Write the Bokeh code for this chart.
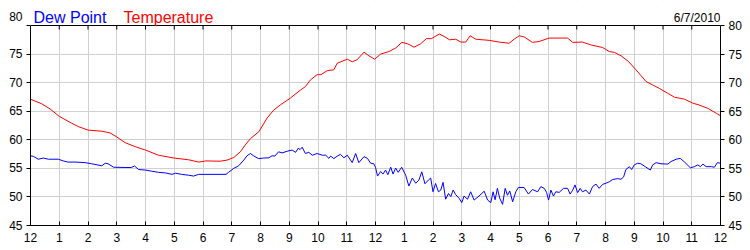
from bokeh.plotting import figure
from bokeh.models import Range1d, FixedTicker, LinearAxis, Label, Span, BoxAnnotation
from bokeh.embed import file_html
from bokeh.resources import INLINE

# ---- data (hours since midnight, degrees F) ----
temp_hours = [0.0, 0.39, 0.68, 1.0, 1.43, 1.67, 2.0, 2.48, 2.77, 3.0, 3.29, 3.64, 4.0, 4.45,
              5.0, 5.5, 5.85, 6.1, 6.6, 6.84, 7.07, 7.3, 7.47, 7.65, 7.94, 8.23, 8.46, 8.69,
              9.04, 9.39, 9.56, 9.74, 9.97, 10.1, 10.32, 10.55, 10.67, 11.02, 11.19, 11.36,
              11.6, 11.77, 11.97, 12.18, 12.47, 12.7, 12.92, 13.12, 13.34, 13.57, 13.77, 13.94,
              14.22, 14.38, 14.58, 14.79, 14.97, 15.14, 15.29, 15.49, 15.95, 16.3, 16.65, 16.82,
              17.0, 17.17, 17.46, 17.69, 18.04, 18.68, 18.86, 19.2, 19.49, 19.9, 20.13, 20.31,
              20.54, 20.8, 21.06, 21.24, 21.41, 21.64, 21.87, 22.16, 22.4, 22.75, 23.04, 23.25,
              23.56, 23.85, 24.0]
temp_values = [67.1, 66.3, 65.4, 64.1, 62.9, 62.3, 61.7, 61.5, 61.2, 60.5, 59.5, 58.8, 58.2, 57.3,
               56.8, 56.5, 56.1, 56.3, 56.25, 56.45, 56.9, 57.9, 59.1, 60.2, 61.4, 63.8, 65.2, 66.1,
               67.3, 68.7, 69.3, 70.5, 71.4, 71.4, 72.1, 72.25, 73.4, 74.1, 73.65, 74.0,
               75.35, 74.7, 74.1, 75.0, 75.45, 76.05, 77.05, 76.8, 76.2, 76.8, 77.7, 77.7,
               78.5, 78.1, 77.5, 77.6, 77.1, 77.1, 78.2, 77.6, 77.4, 77.1, 76.9, 77.6,
               78.2, 78.0, 77.05, 77.2, 77.8, 77.8, 77.05, 77.1, 76.6, 76.15, 75.45, 75.3,
               74.7, 73.7, 72.25, 71.2, 70.2, 69.6, 69.0, 68.15, 67.45, 67.1, 66.4, 66.1,
               65.5, 64.65, 64.2]

dew_hours = [0.0, 0.1, 0.27, 0.45, 0.62, 0.97, 1.14, 1.3, 1.55, 1.9, 2.13, 2.48, 2.6, 2.7, 2.89,
             3.29, 3.5, 3.62, 3.76, 4.0, 4.22, 4.45, 4.7, 4.92, 5.05, 5.25, 5.5, 5.67, 5.85, 6.8,
             6.89, 7.07, 7.24, 7.42, 7.53, 7.65, 7.77, 7.94, 8.1, 8.29, 8.4, 8.5, 8.63, 8.75,
             8.93, 9.1, 9.22, 9.31, 9.38, 9.45, 9.56, 9.68, 9.8, 9.97, 10.15, 10.27, 10.38,
             10.44, 10.55, 10.67, 10.78, 10.9, 11.02, 11.19, 11.31, 11.42, 11.6, 11.72, 11.83,
             11.94, 12.0, 12.07, 12.18, 12.26, 12.35, 12.43, 12.53, 12.61, 12.7, 12.79, 12.91,
             13.05, 13.16, 13.28, 13.4, 13.51, 13.61, 13.72, 13.84, 13.92, 14.0, 14.09, 14.19,
             14.27, 14.35, 14.44, 14.54, 14.62, 14.7, 14.79, 14.91, 15.0, 15.08, 15.2, 15.31,
             15.43, 15.6, 15.78, 15.9, 16.01, 16.09, 16.16, 16.24, 16.32, 16.42, 16.51, 16.59,
             16.67, 16.77, 16.88, 16.97, 17.17, 17.32, 17.46, 17.64, 17.75, 17.87, 17.95, 18.02,
             18.1, 18.19, 18.27, 18.39, 18.54, 18.68, 18.77, 18.86, 18.94, 19.03, 19.12, 19.2,
             19.32, 19.44, 19.55, 19.67, 19.78, 19.9, 20.02, 20.13, 20.25, 20.42, 20.54, 20.63,
             20.71, 20.83, 20.91, 21.0, 21.12, 21.23, 21.38, 21.56, 21.64, 21.76, 21.93, 22.17,
             22.28, 22.46, 22.6, 22.75, 22.95, 23.09, 23.21, 23.3, 23.39, 23.5, 23.68, 23.79,
             23.89, 24.0]
dew_values = [57.2, 57.1, 56.6, 56.8, 56.6, 56.6, 56.3, 56.1, 56.1, 56.0, 55.8, 55.45, 55.9, 55.8, 55.2,
              55.15, 55.15, 55.4, 54.8, 54.7, 54.5, 54.3, 54.2, 53.95, 54.15, 53.95, 53.8, 53.65, 53.95, 53.95,
              54.3, 55.0, 55.45, 56.45, 57.2, 57.6, 57.15, 56.7, 56.8, 56.85, 57.2, 57.15, 57.9, 57.7,
              58.0, 58.2, 57.8, 58.5, 58.3, 58.7, 57.6, 57.8, 57.3, 57.6, 57.3, 57.3, 56.75,
              57.15, 56.7, 57.15, 57.45, 56.85, 57.3, 56.0, 57.6, 56.0, 57.05, 56.75, 55.9,
              55.8, 55.2, 53.65, 54.45, 54.0, 54.7, 53.9, 55.2, 54.0, 55.05, 54.3, 55.2,
              53.8, 51.9, 53.3, 52.4, 52.95, 54.4, 52.3, 52.95, 53.3, 50.9, 52.35, 50.9,
              51.2, 52.55, 49.6, 50.6, 50.05, 51.2, 50.4, 49.75, 49.0, 50.15, 49.6, 50.9,
              49.45, 50.15, 51.0, 49.45, 49.0, 50.9, 49.5, 51.5, 49.8, 48.7, 51.5, 50.3,
              51.05, 49.15, 50.9, 51.65, 51.65, 50.5, 51.3, 50.9, 51.8, 51.5, 50.8, 49.45,
              51.2, 50.15, 50.9, 50.8, 51.5, 51.5, 50.5, 51.2, 52.1, 50.75, 51.5, 50.9,
              51.2, 50.5, 51.8, 52.25, 51.5, 52.2, 52.4, 52.65, 53.05, 53.2, 53.1, 53.5,
              54.8, 55.3, 54.8, 55.6, 55.9, 55.8, 55.3, 54.7, 55.6, 56.0, 55.8, 55.75,
              56.2, 56.6, 56.75, 56.1, 55.1, 55.3, 55.6, 55.3, 55.75, 55.3, 55.3, 55.2,
              56.0, 55.9]

hour_ticks = list(range(0, 25))
hour_labels = ["12", "1", "2", "3", "4", "5", "6", "7", "8", "9", "10", "11",
               "12", "1", "2", "3", "4", "5", "6", "7", "8", "9", "10", "11", "12"]
y_ticks = [45, 50, 55, 60, 65, 70, 75, 80]
series_names = ["Dew Point", "Temperature"]
date_text = "6/7/2010"

# ---- layout constants ----
W, H = 750, 250
ML, MR, MT, MB = 30, 30, 25, 25
X0, X1, Y0, Y1 = 0, 24, 45, 80
FONT = "Liberation Sans"
px_x = (X1 - X0) / (W - ML - MR)    # data units per pixel
px_y = (Y1 - Y0) / (H - MT - MB)
Y_TOP = Y1 + MT * px_y              # frame extends into the header strip

p = figure(width=W, height=H, output_backend="svg", toolbar_location=None,
           x_range=Range1d(X0, X1), y_range=Range1d(Y0, Y_TOP),
           min_border_left=ML, min_border_right=MR, min_border_top=0, min_border_bottom=MB,
           x_axis_location=None, y_axis_location=None)
p.title.visible = False
p.outline_line_color = None
p.background_fill_color = "white"
p.border_fill_color = "white"

xt = FixedTicker(ticks=hour_ticks)
yt = FixedTicker(ticks=y_ticks)
p.xgrid.ticker = xt
p.ygrid.ticker = yt
for g in (p.xgrid, p.ygrid):
    g.grid_line_color = "#d0d0d0"
    g.grid_line_width = 1


def style(ax, tick_in, tick_out):
    ax.axis_line_color = "black"
    ax.major_tick_line_color = "black"
    ax.major_tick_in = tick_in
    ax.major_tick_out = tick_out
    ax.minor_tick_line_color = None
    ax.major_label_text_font = FONT
    ax.major_label_text_font_size = "12px"
    ax.major_label_text_color = "black"


bottom = LinearAxis(ticker=xt, major_label_overrides={h: lab for h, lab in zip(hour_ticks, hour_labels)})
style(bottom, 4, 0)
bottom.major_label_standoff = 7
p.add_layout(bottom, "below")

left = LinearAxis(ticker=yt, bounds=(Y0, Y1), major_label_overrides={Y1: f"{Y1}\n "})
style(left, 0, 4)
left.major_label_standoff = 4
p.add_layout(left, "left")

right = LinearAxis(ticker=yt, bounds=(Y0, Y1))
style(right, 0, 4)
right.major_label_standoff = 4
p.add_layout(right, "right")

# data lines
p.line(dew_hours, dew_values, line_color="#0000ff", line_width=1)
p.line(temp_hours, temp_values, line_color="#ff0000", line_width=1)

# inner tick marks along the top edge of the plot box
p.segment(x0=hour_ticks, y0=[Y1] * len(hour_ticks), x1=hour_ticks,
          y1=[Y1 - 4 * px_y] * len(hour_ticks), line_color="black", line_width=1)

# white header strip above the plot box, then the top border
p.add_layout(BoxAnnotation(left=X0, right=X1, bottom=Y1, top=Y_TOP,
                           fill_color="white", fill_alpha=1.0, line_color=None))
p.add_layout(Span(location=Y1, dimension="width", line_color="black", line_width=1))

# legend texts and date in the header strip
base_y = Y1 + 8 * px_y
p.add_layout(Label(x=X0 + 3 * px_x, y=base_y, text=series_names[0], text_color="#0000ff",
                   text_font=FONT, text_font_size="16px", text_baseline="alphabetic"))
p.add_layout(Label(x=X0 + 93 * px_x, y=base_y, text=series_names[1], text_color="#ff0000",
                   text_font=FONT, text_font_size="16px", text_baseline="alphabetic"))
p.add_layout(Label(x=X1, y=base_y, text=date_text, text_color="black", text_align="right",
                   text_font=FONT, text_font_size="12px", text_baseline="alphabetic"))

open("out.html", "w").write(file_html(p, INLINE))
